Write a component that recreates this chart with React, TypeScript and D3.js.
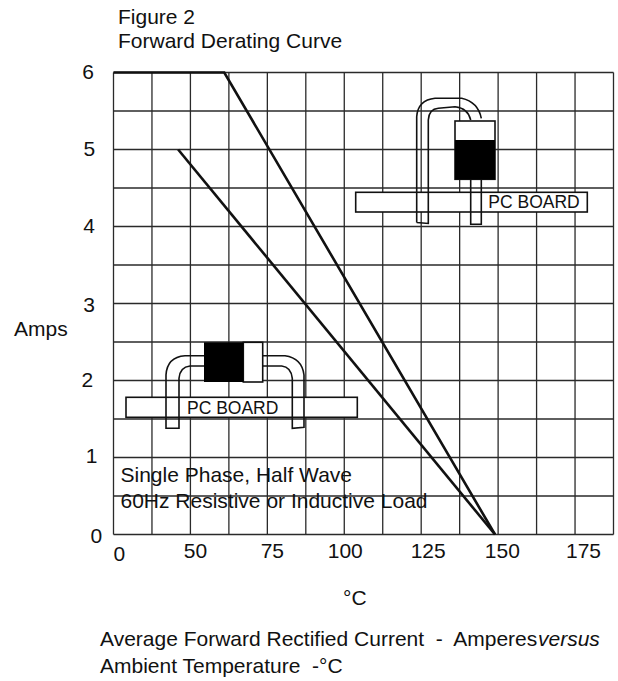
import React, { useEffect, useRef } from 'react';
import * as d3 from 'd3';

// x axis is labelled oddly: the first gridline reads 0 but sits where 25 would be
const tempTicks = [25, 50, 75, 100, 125, 150, 175];
const tempLabels = ['0', '50', '75', '100', '125', '150', '175'];
const ampTicks = [0, 1, 2, 3, 4, 5, 6];

const flatTemp = [25, 61, 149];
const flatAmps = [6, 6, 0];
const lowTemp = [46, 149];
const lowAmps = [5, 0];

const FONT = '"Liberation Sans", Arial, sans-serif';

export default function App() {
  const ref = useRef<SVGSVGElement | null>(null);

  useEffect(() => {
    if (!ref.current) return;
    const svg = d3.select(ref.current);
    svg.selectAll('*').remove();

    const left = 113.5, right = 613.5, top = 72.5, bottom = 534.5;
    const x = d3.scaleLinear().domain([25, 187.5]).range([left, right]);
    const y = d3.scaleLinear().domain([0, 6]).range([bottom, top]);

    const grid = svg.append('g').attr('fill', 'none').attr('stroke', '#2a2a2a').attr('stroke-width', 1.3);
    grid.selectAll('.v').data(d3.range(25, 188, 12.5)).join('line')
      .attr('x1', d => x(d)).attr('x2', d => x(d)).attr('y1', top).attr('y2', bottom);
    grid.selectAll('.h').data(d3.range(0, 6.5, 0.5)).join('line')
      .attr('x1', left).attr('x2', right).attr('y1', d => y(d)).attr('y2', d => y(d));

    const txt = (s: string, px: number, py: number, size = 21) =>
      svg.append('text').attr('x', px).attr('y', py).attr('font-size', size).attr('fill', '#111')
        .style('white-space', 'pre').text(s);

    // hand placed nudges, the source labels do not line up with the grid
    const xNudge = [5.8, 5, 5, 1, 7, 4.2, 8.5];
    const xDrop = [560.7, 558, 558, 558, 558, 558, 558];
    tempTicks.forEach((t, i) => {
      txt(tempLabels[i], x(t) + xNudge[i], xDrop[i]).attr('text-anchor', 'middle');
    });
    const yCentre = [96.3, 91.5, 87.3, 89, 89, 89.3, 88];
    const yDrop = [8.5, 5.7, 6, 8.5, 6, 6.5, 6.5];
    ampTicks.forEach((a, i) => {
      txt(String(a), yCentre[i], y(a) + yDrop[i]).attr('text-anchor', 'middle');
    });

    // upper diagram, vertical mount
    const d1 = svg.append('g');
    d1.append('rect').attr('x', 355.7).attr('y', 192.3).attr('width', 231.6).attr('height', 19.7)
      .attr('fill', '#fff').attr('stroke', '#111').attr('stroke-width', 1.6);
    d1.append('path').attr('fill', 'none').attr('stroke', '#111').attr('stroke-width', 1.6)
      .attr('d', 'M470.7,179V224.3H481.3V179 M416.7,222.5L428.3,223.5V120Q429,109 438.3,108.3L455,106.7Q468,108 470.7,120 M416.7,222.5V116.7Q418,100 435,98.3H461.7Q478,102 481.3,118.3');
    d1.append('rect').attr('x', 455).attr('y', 121).attr('width', 40).attr('height', 58.3)
      .attr('fill', '#fff').attr('stroke', '#111').attr('stroke-width', 1.6);
    d1.append('rect').attr('x', 455).attr('y', 140).attr('width', 40).attr('height', 39.3).attr('fill', '#000');
    txt('PC BOARD', 488.3, 207.7, 17.5);

    // lower diagram, flat mount
    const d2 = svg.append('g');
    d2.append('rect').attr('x', 126).attr('y', 397.3).attr('width', 231.3).attr('height', 20)
      .attr('fill', '#fff').attr('stroke', '#111').attr('stroke-width', 1.6);
    d2.append('path').attr('fill', 'none').attr('stroke', '#111').attr('stroke-width', 1.6)
      .attr('d', 'M204,355.7H185Q167,357 166,375V428.3H179V378.3Q180,367 190,366H204 M262.7,355.7H285Q302,358 304,375V427.3L292.3,428.3V378.3Q291,367 281.7,366H262.7');
    d2.append('rect').attr('x', 243.3).attr('y', 342.3).attr('width', 19.4).attr('height', 39.7)
      .attr('fill', '#fff').attr('stroke', '#111').attr('stroke-width', 1.6);
    d2.append('rect').attr('x', 204).attr('y', 342.3).attr('width', 39.3).attr('height', 39.7).attr('fill', '#000');
    txt('PC BOARD', 232.7, 414.3, 17.5).attr('text-anchor', 'middle');

    const drawCurve = (temps: number[], amps: number[], w: number) => {
      const pts = temps.map((t, i) => [x(t), y(amps[i])] as [number, number]);
      svg.append('path').attr('d', d3.line()(pts)).attr('fill', 'none').attr('stroke', '#111').attr('stroke-width', w);
    };
    drawCurve(flatTemp, flatAmps, 2.6);
    drawCurve(lowTemp, lowAmps, 2.6);

    txt('Figure 2', 118, 23.5);
    txt('Forward Derating Curve', 118, 48.3);
    txt('Amps', 14, 336);
    txt('Single Phase, Half Wave', 120.5, 482.3);
    txt('60Hz Resistive or Inductive Load', 120.5, 508.3);
    txt('°C', 343, 605);
    txt('Average Forward Rectified Current  -  Amperes', 100, 646);
    txt('versus', 538, 646).attr('font-style', 'italic');
    txt('Ambient Temperature  -°C', 100, 672.7);
  }, []);

  return (
    <svg ref={ref} width={618} height={681} fontFamily={FONT}
      style={{ position: 'absolute', left: 0, top: 0, background: '#fff' }} />
  );
}
